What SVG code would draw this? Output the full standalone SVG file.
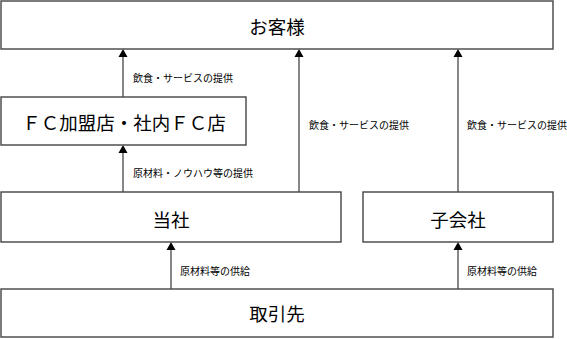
<svg xmlns="http://www.w3.org/2000/svg" width="567" height="339" viewBox="0 0 567 339">
<style>
.box{fill:#fff;stroke:#444;stroke-width:1.4}
.big{font-family:"Noto Sans CJK JP","Noto Sans CJK SC",sans-serif;font-size:18.5px;fill:#000;text-anchor:middle;dominant-baseline:central}
.lbl{font-family:"Noto Sans CJK JP","Noto Sans CJK SC",sans-serif;font-size:10px;fill:#000;dominant-baseline:central}
.ln{stroke:#555;stroke-width:1.4;fill:none}
.head{fill:#000}
</style>
<rect width="567" height="339" fill="#fff"/>
<g id="connectors">
<line class="ln" x1="123" y1="97" x2="123" y2="57"/>
<path class="head" d="M118.5,57 L123,49 L127.5,57 Z"/>
<line class="ln" x1="299" y1="192" x2="299" y2="57"/>
<path class="head" d="M294.5,57 L299,49 L303.5,57 Z"/>
<line class="ln" x1="458" y1="192" x2="458" y2="57"/>
<path class="head" d="M453.5,57 L458,49 L462.5,57 Z"/>
<line class="ln" x1="123" y1="192" x2="123" y2="153"/>
<path class="head" d="M118.5,153 L123,145 L127.5,153 Z"/>
<line class="ln" x1="171" y1="289" x2="171" y2="250"/>
<path class="head" d="M166.5,250 L171,242 L175.5,250 Z"/>
<line class="ln" x1="458" y1="289" x2="458" y2="250"/>
<path class="head" d="M453.5,250 L458,242 L462.5,250 Z"/>
<text class="lbl" x="133" y="77">飲食・サービスの提供</text>
<text class="lbl" x="309" y="124">飲食・サービスの提供</text>
<text class="lbl" x="467" y="124">飲食・サービスの提供</text>
<text class="lbl" x="133" y="172">原材料・ノウハウ等の提供</text>
<text class="lbl" x="180" y="270">原材料等の供給</text>
<text class="lbl" x="467" y="270">原材料等の供給</text>
</g>
<g id="customer">
<rect class="box" x="1" y="1" width="552" height="48"/>
<text class="big" x="277" y="26">お客様</text>
</g>
<g id="fc">
<rect class="box" x="1" y="97" width="245" height="48"/>
<text class="big" x="124" y="122">ＦＣ加盟店・社内ＦＣ店</text>
</g>
<g id="company">
<rect class="box" x="1" y="192" width="340" height="50"/>
<text class="big" x="171" y="219">当社</text>
</g>
<g id="subsidiary">
<rect class="box" x="363" y="192" width="190" height="50"/>
<text class="big" x="458" y="219">子会社</text>
</g>
<g id="supplier">
<rect class="box" x="1" y="289" width="552" height="48"/>
<text class="big" x="277" y="313">取引先</text>
</g>
</svg>
